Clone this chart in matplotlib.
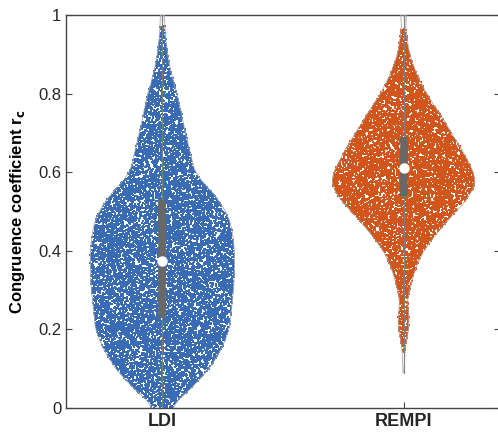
import numpy as np
import matplotlib
matplotlib.use('Agg')
import matplotlib.pyplot as plt

plt.rcParams['font.family'] = ['Liberation Sans', 'DejaVu Sans']

categories = ['LDI', 'REMPI']
positions = [1, 2]

# violin profile: y level and half-width (x units)
ldi_y = [0.00, 0.02, 0.05, 0.10, 0.15, 0.20, 0.25, 0.30, 0.35, 0.40, 0.45, 0.48,
         0.51, 0.55, 0.58, 0.61, 0.65, 0.70, 0.75, 0.80, 0.85, 0.90, 0.95, 1.00]
ldi_hw = [0.041, 0.062, 0.120, 0.195, 0.245, 0.278, 0.286, 0.295, 0.299, 0.299, 0.290, 0.278,
          0.253, 0.207, 0.158, 0.129, 0.116, 0.095, 0.079, 0.060, 0.037, 0.021, 0.012, 0.008]

rempi_y = [0.09, 0.12, 0.15, 0.17, 0.20, 0.23, 0.26, 0.28, 0.30, 0.35, 0.40, 0.45, 0.50,
           0.52, 0.55, 0.57, 0.60, 0.65, 0.70, 0.75, 0.80, 0.85, 0.90, 0.95, 0.97, 1.00]
rempi_hw = [0.002, 0.004, 0.006, 0.012, 0.021, 0.023, 0.017, 0.017, 0.025, 0.046, 0.083, 0.145, 0.216,
            0.249, 0.282, 0.299, 0.290, 0.249, 0.199, 0.149, 0.095, 0.054, 0.025, 0.012, 0.008, 0.012]

# data range covered by points
ldi_range = (0.0, 0.975)
rempi_range = (0.14, 0.965)

# box statistics: q1, median, q3
ldi_box = (0.23, 0.375, 0.53)
rempi_box = (0.54, 0.61, 0.69)

colors = ['#3a6cb5', '#d2561c']

fig = plt.figure(figsize=(4.98, 4.33), dpi=100)
ax = fig.add_axes([66/498, 25/433, 434/498, 393/433])

profiles = [(ldi_y, ldi_hw), (rempi_y, rempi_hw)]
ranges = [ldi_range, rempi_range]
boxes = [ldi_box, rempi_box]


# speckle texture: deterministic integer hash (decoration only, not data)
def hash01(idx, salt):
    x = (idx.astype(np.uint64) * np.uint64(2654435761) + np.uint64(salt)) & np.uint64(0xFFFFFFFF)
    x ^= x >> np.uint64(16)
    x = (x * np.uint64(0x45D9F3B)) & np.uint64(0xFFFFFFFF)
    x ^= x >> np.uint64(16)
    x = (x * np.uint64(0x45D9F3B)) & np.uint64(0xFFFFFFFF)
    x ^= x >> np.uint64(16)
    return x.astype(np.float64) / 4294967296.0


idx = np.arange(1, 27001)
u = hash01(idx, 12345)
v = hash01(idx, 987654)


def smooth_profile(yy, hh):
    yf = np.linspace(yy.min(), yy.max(), 600)
    wf = np.interp(yf, yy, hh)
    k = np.exp(-0.5 * (np.arange(-20, 21) / 7.0) ** 2)
    k /= k.sum()
    wp = np.pad(wf, 20, mode='edge')
    ws = np.convolve(wp, k, mode='same')[20:-20]
    return yf, ws


for pos, (yy, hh), (lo, hi), (q1, med, q3), col in zip(positions, profiles, ranges, boxes, colors):
    yy = np.asarray(yy); hh = np.asarray(hh)
    yf, wf = smooth_profile(yy, hh)
    # points
    py = lo + v * (hi - lo)
    px = pos + (2 * u - 1) * 0.31
    w = np.interp(py, yf, wf)
    m = np.abs(px - pos) <= w
    ax.scatter(px[m], py[m], s=0.52, marker='s', color=col, linewidths=0, zorder=2,
               antialiased=False)
    # outline
    ax.plot(np.r_[pos - wf, (pos + wf)[::-1]], np.r_[yf, yf[::-1]], color='#a8a8a8', lw=0.6, zorder=3)
    # whisker
    ax.plot([pos, pos], [yy.min(), yy.max()], color='#808080', lw=0.8, zorder=4)
    # box
    ax.plot([pos, pos], [q1, q3], color='#686868', lw=5.5, solid_capstyle='butt', zorder=5)
    ax.plot([pos], [med], marker='o', ms=6.5, mfc='white', mec='white', zorder=6)

ax.set_xlim(0.6, 2.4)
ax.set_ylim(0, 1)
ax.set_xticks(positions)
ax.set_xticklabels(categories, fontsize=13, fontweight='bold')
ax.set_yticks([0, 0.2, 0.4, 0.6, 0.8, 1])
ax.set_yticklabels(['0', '0.2', '0.4', '0.6', '0.8', '1'], fontsize=12)
ax.set_ylabel('Congruence coefficient r$_\\mathbf{c}$', fontsize=12, fontweight='bold', labelpad=8)
ax.tick_params(direction='in', length=4, width=0.8, color='#444444', labelcolor='#262626',
               top=True, right=True)
for s in ax.spines.values():
    s.set_color('#444444')
    s.set_linewidth(1.0)

fig.savefig('out.png', dpi=100)
